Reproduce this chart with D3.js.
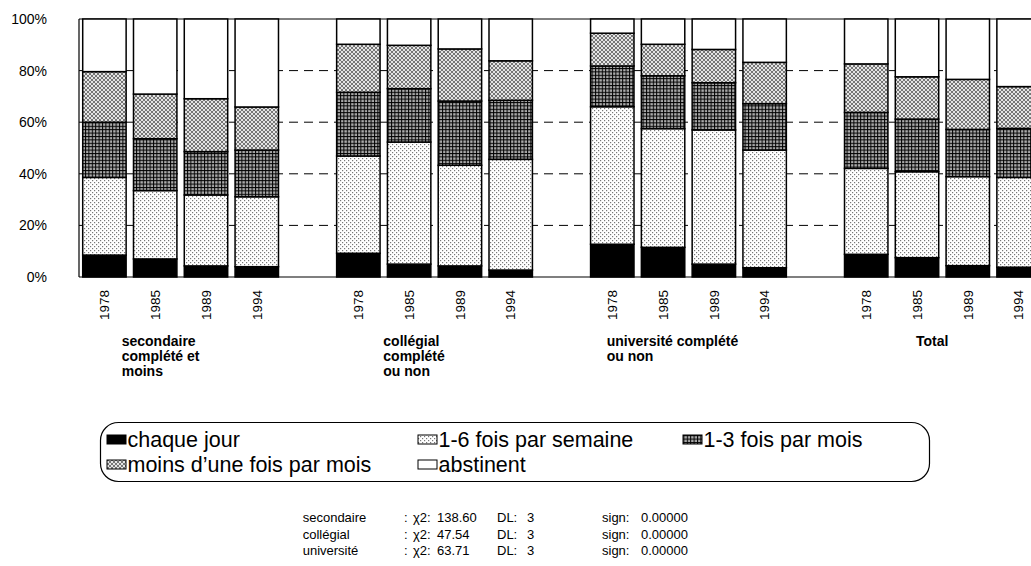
<!DOCTYPE html>
<html><head><meta charset="utf-8">
<script src="https://cdn.jsdelivr.net/npm/d3@7"></script>
<style>
html,body{margin:0;padding:0;background:#fff;}
text{font-family:"Liberation Sans",Arial,Helvetica,sans-serif;fill:#000;}
</style></head>
<body><svg id="c" width="1031" height="566"></svg>
<script>
// ---- data ----
const groups = ["secondaire", "collégial", "université", "Total"];
const groupLabels = [
  ["secondaire", "complété et", "moins"],
  ["collégial", "complété", "ou non"],
  ["université complété", "ou non"],
  ["Total"]
];
const years = ["1978", "1985", "1989", "1994"];
const seriesNames = ["chaque jour", "1-6 fois par semaine", "1-3 fois par mois", "moins d\u2019une fois par mois", "abstinent"];
// values (%) in order: secondaire 1978..1994, collégial, université, Total
const chaqueJour   = [8.5, 7.0, 4.3, 4.0,   9.2, 5.0, 4.3, 2.7,   12.7, 11.5, 5.0, 3.6,   8.8, 7.5, 4.4, 3.8];
const semaine      = [30.1, 26.5, 27.5, 27.1, 37.7, 47.3, 39.0, 42.9, 53.3, 46.0, 52.0, 45.6, 33.3, 33.3, 34.5, 34.8];
const mois13       = [21.4, 20.1, 16.8, 18.1, 24.7, 20.7, 24.9, 22.9, 15.8, 20.5, 18.3, 18.0, 21.7, 20.4, 18.3, 19.0];
const moinsUneFois = [19.6, 17.3, 20.5, 16.7, 18.6, 16.8, 20.2, 15.3, 12.7, 12.2, 12.9, 16.0, 18.8, 16.4, 19.4, 16.2];
const abstinent    = [20.4, 29.1, 30.9, 34.1, 9.8, 10.2, 11.6, 16.2, 5.5, 9.8, 11.8, 16.8, 17.4, 22.4, 23.4, 26.2];
const yTicks = [0, 20, 40, 60, 80, 100];
const statLabels = ["secondaire", "collégial", "université"];
const statChi2 = ["138.60", "47.54", "63.71"];
const statDL = ["3", "3", "3"];
const statSign = ["0.00000", "0.00000", "0.00000"];

// ---- layout ----
const svg = d3.select("#c");
const M = {left: 79, right: 1044, top: 19, bottom: 277};
const groupLabelX = [121.7, 383.3, 606.7, 916];
const FONT = '"Liberation Sans",Arial,Helvetica,sans-serif';

// slots (with spacer between groups)
const slots = [];
groups.forEach((g, gi) => {
  years.forEach((y, yi) => slots.push({id: g + "|" + y, g: gi, y: yi, idx: gi * 4 + yi}));
  if (gi < groups.length - 1) slots.push({id: "sp" + gi, spacer: true});
});
const x = d3.scaleBand().domain(slots.map(s => s.id)).range([M.left, M.right]).paddingInner(0.145).paddingOuter(0.073);
const y = d3.scaleLinear().domain([0, 100]).range([M.bottom, M.top]);

// patterns
const defs = svg.append("defs");
let p = defs.append("pattern").attr("id", "pDots").attr("patternUnits", "userSpaceOnUse").attr("width", 4).attr("height", 4);
p.append("rect").attr("width", 4).attr("height", 4).attr("fill", "#fff");
p.append("rect").attr("x", 0).attr("y", 0).attr("width", 1.2).attr("height", 1.2).attr("fill", "#777");
p.append("rect").attr("x", 2).attr("y", 2).attr("width", 1.2).attr("height", 1.2).attr("fill", "#777");

p = defs.append("pattern").attr("id", "pGrid").attr("patternUnits", "userSpaceOnUse").attr("width", 3.4).attr("height", 3.4);
p.append("rect").attr("width", 3.4).attr("height", 3.4).attr("fill", "#aaa");
p.append("rect").attr("x", 0).attr("y", 0).attr("width", 1).attr("height", 3.4).attr("fill", "#000");
p.append("rect").attr("x", 0).attr("y", 0).attr("width", 3.4).attr("height", 1).attr("fill", "#000");

p = defs.append("pattern").attr("id", "pCross").attr("patternUnits", "userSpaceOnUse").attr("width", 4).attr("height", 4);
p.append("rect").attr("width", 4).attr("height", 4).attr("fill", "#e4e4e4");
p.append("path").attr("d", "M0,0L4,4M4,0L0,4").attr("stroke", "#6a6a6a").attr("stroke-width", 0.9);

const fills = ["#000", "url(#pDots)", "url(#pGrid)", "url(#pCross)", "#fff"];

// frame + gridlines
svg.append("line").attr("x1", M.left).attr("x2", 1031).attr("y1", M.top).attr("y2", M.top).attr("stroke", "#000").attr("stroke-width", 1);
svg.selectAll("line.grid").data(yTicks.filter(t => t > 0 && t < 100)).enter().append("line")
  .attr("class", "grid").attr("x1", M.left).attr("x2", 1031)
  .attr("y1", d => y(d)).attr("y2", d => y(d))
  .attr("stroke", "#000").attr("stroke-width", 1).attr("stroke-dasharray", "9,6");

// stacked bars
const stackData = slots.filter(s => !s.spacer).map(s => ({
  id: s.id,
  v: [chaqueJour[s.idx], semaine[s.idx], mois13[s.idx], moinsUneFois[s.idx], abstinent[s.idx]]
}));
const stack = d3.stack().keys([0, 1, 2, 3, 4]).value((d, k) => d.v[k]);
const layers = stack(stackData);
const gBars = svg.append("g");
layers.forEach((layer, li) => {
  gBars.selectAll(null).data(layer).enter().append("rect")
    .attr("x", d => x(d.data.id))
    .attr("width", x.bandwidth())
    .attr("y", d => y(Math.min(d[1], 100)))
    .attr("height", d => y(d[0]) - y(Math.min(d[1], 100)))
    .attr("fill", fills[li])
    .attr("stroke", "#000").attr("stroke-width", 1.5);
});

// axes lines
svg.append("line").attr("x1", M.left).attr("x2", M.left).attr("y1", M.top).attr("y2", M.bottom).attr("stroke", "#000").attr("stroke-width", 1.2);
svg.append("line").attr("x1", M.left).attr("x2", 1031).attr("y1", M.bottom).attr("y2", M.bottom).attr("stroke", "#000").attr("stroke-width", 1.2);

// y axis labels
const yAxis = d3.axisLeft(y).tickValues(yTicks).tickSize(0).tickPadding(32).tickFormat(d => d + "%");
const ga = svg.append("g").attr("transform", `translate(${M.left},0)`).call(yAxis);
ga.select(".domain").remove();
ga.selectAll("text").attr("font-size", 14).attr("font-family", FONT).attr("fill", "#000");

// x year labels
const xAxis = d3.axisBottom(x).tickValues(slots.filter(s => !s.spacer).map(s => s.id)).tickSize(0)
  .tickFormat(id => id.split("|")[1]);
const gx = svg.append("g").attr("transform", `translate(0,${M.bottom})`).call(xAxis);
gx.select(".domain").remove();
gx.selectAll("text")
  .attr("font-size", 13.5).attr("font-family", FONT).attr("fill", "#000")
  .attr("text-anchor", "end")
  .attr("transform", "translate(0,13) rotate(-90)")
  .attr("x", 0).attr("y", 0).attr("dy", "0.35em");

// group labels
groupLabels.forEach((lines, gi) => {
  const t = svg.append("text").attr("x", groupLabelX[gi]).attr("y", 346)
    .attr("font-size", 14).attr("font-weight", "bold");
  lines.forEach((ln, li) => t.append("tspan").attr("x", groupLabelX[gi]).attr("y", 346 + li * 15).text(ln));
});

// legend
svg.append("rect").attr("x", 100.5).attr("y", 422.5).attr("width", 829).attr("height", 59).attr("rx", 18).attr("ry", 18)
  .attr("fill", "none").attr("stroke", "#000").attr("stroke-width", 1.2);
const legPos = [
  {x: 107, y: 447}, {x: 418, y: 447}, {x: 683, y: 447},
  {x: 107, y: 472}, {x: 418, y: 472}
];
seriesNames.forEach((name, i) => {
  const lp = legPos[i];
  svg.append("rect").attr("x", lp.x).attr("y", lp.y - 12).attr("width", 19).attr("height", 9)
    .attr("fill", fills[i]).attr("stroke", "#000").attr("stroke-width", 1);
  svg.append("text").attr("x", lp.x + 20.5).attr("y", lp.y).attr("font-size", 21.5).text(name);
});

// stats
const colX = {lab: 302.7, colon: 404, chi: 413, val: 437, dl: 497, dlv: 527, sg: 602, sgv: 641};
statLabels.forEach((lab, i) => {
  const yy = 522 + i * 16.5;
  const row = [[colX.lab, lab], [colX.colon, ":"], [colX.chi, "\u03c72:"], [colX.val, statChi2[i]],
               [colX.dl, "DL:"], [colX.dlv, statDL[i]], [colX.sg, "sign:"], [colX.sgv, statSign[i]]];
  row.forEach(([xx, s]) => svg.append("text").attr("x", xx).attr("y", yy).attr("font-size", 13).text(s));
});
</script></body></html>
